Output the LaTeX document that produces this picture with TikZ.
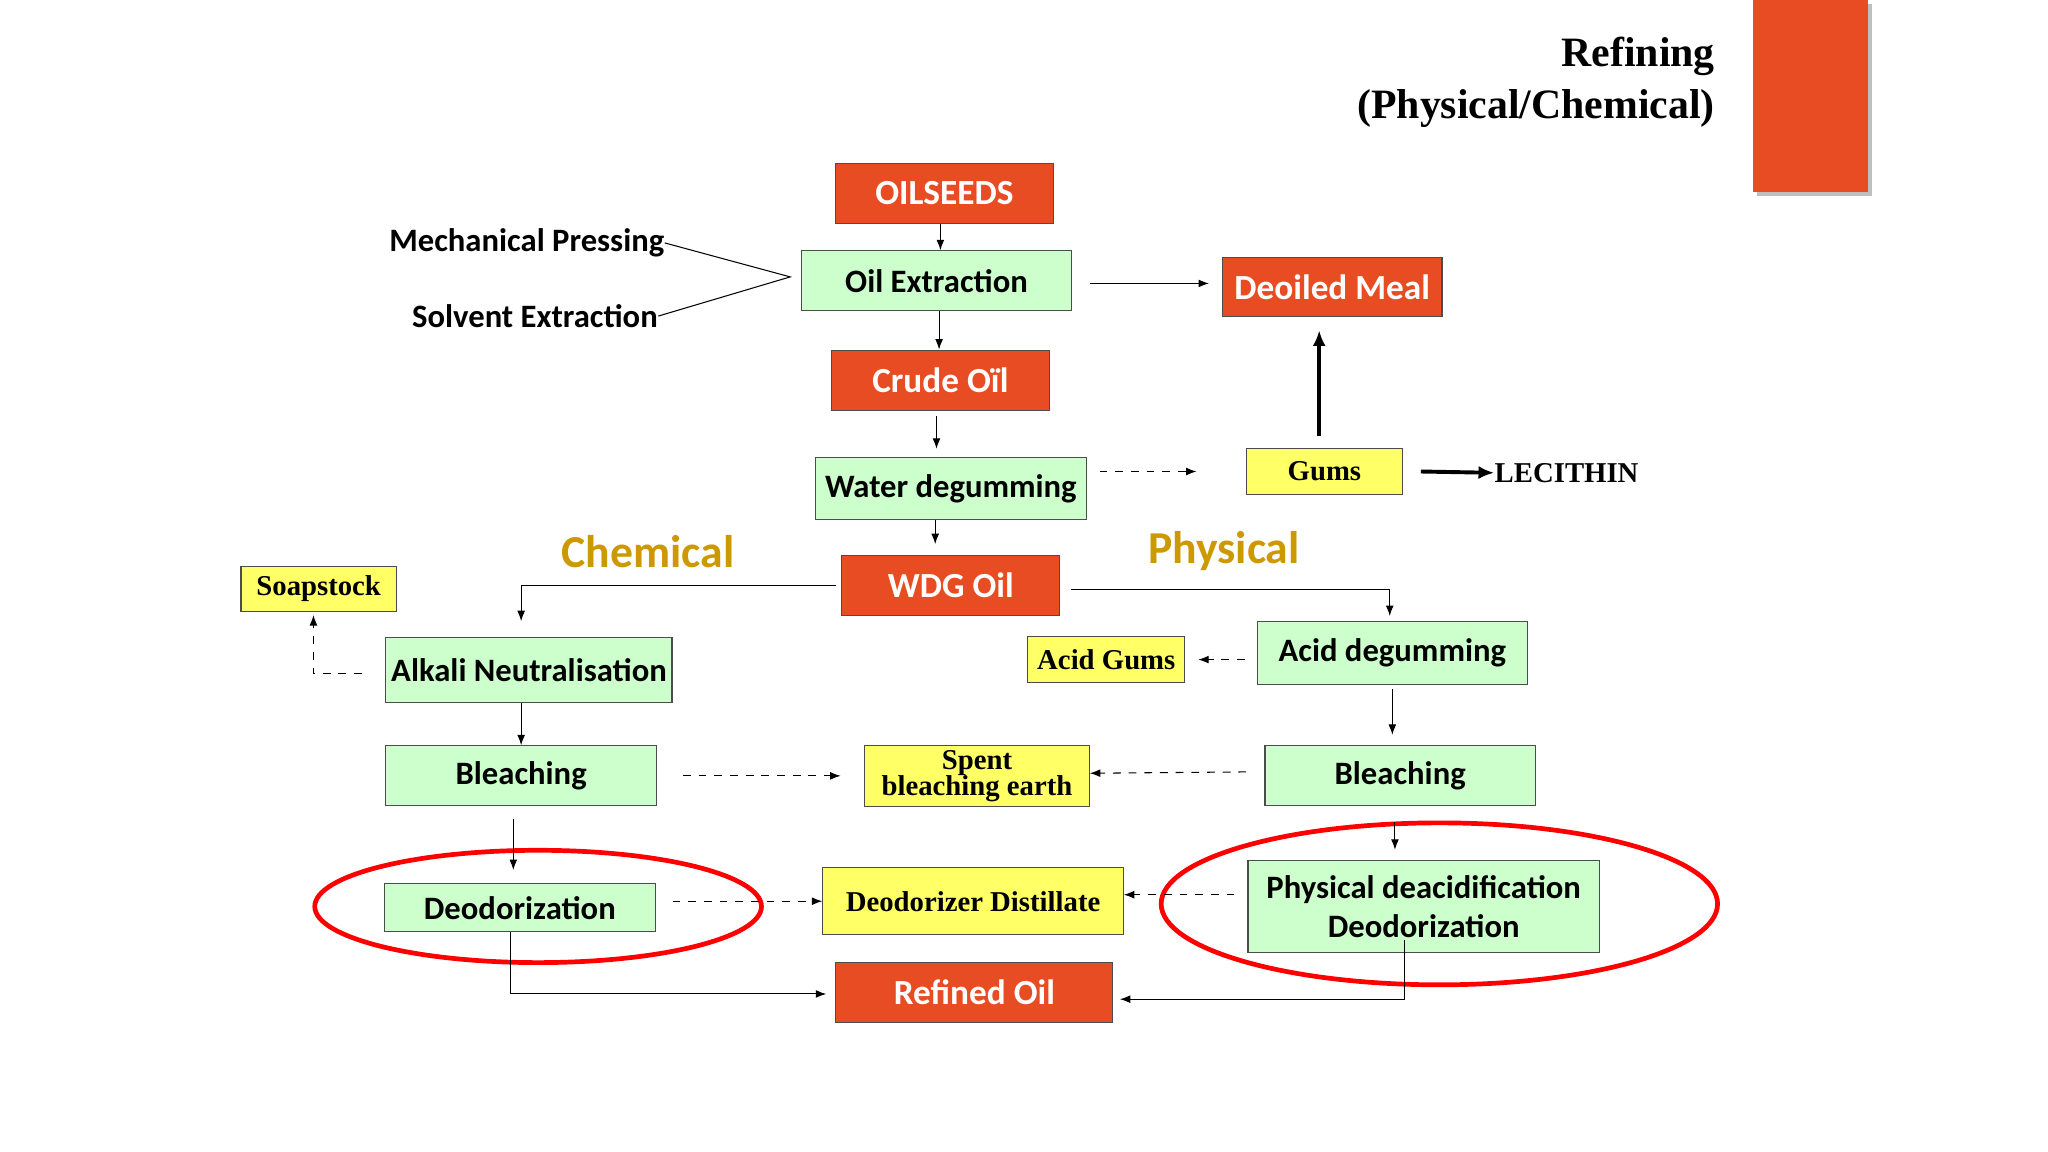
\documentclass[tikz,border=0pt]{standalone}
\usepackage{fontspec}
\setmainfont{Liberation Serif}
\newfontfamily\boxfont{Carlito}
\usetikzlibrary{arrows.meta}
\definecolor{redbox}{HTML}{E84C22}
\definecolor{greenbox}{HTML}{CCFFCC}
\definecolor{yellowbox}{HTML}{FFFF66}
\definecolor{goldtxt}{HTML}{CC9900}
\tikzset{
  base/.style={draw=black!70,inner sep=0pt,font=\boxfont\bfseries\fontsize{12.5}{13}\selectfont},
  hot/.style={base,fill=redbox,text=white,font=\boxfont\bfseries\fontsize{13.5}{14}\selectfont},
  cool/.style={base,fill=greenbox},
  note/.style={base,fill=yellowbox,font=\bfseries\fontsize{11}{10}\selectfont,align=center},
  arr/.style={-{Latex[length=4pt,width=3pt]},thin},
  darr/.style={arr,dashed},
  barr/.style={-{Latex[length=6pt,width=5pt]},line width=1.5pt},
}
\begin{document}
\begin{tikzpicture}[x=0.5pt,y=-0.5pt]
\useasboundingbox[fill=white] (0,0) rectangle (1568,882);
% title
\fill[black!25] (1345,3) rectangle (1433,150);
\fill[redbox] (1342,0) rectangle (1430,147);
\node[anchor=east,align=right,font=\bfseries\fontsize{16}{20}\selectfont] (title) at (1320,63) {Refining\\(Physical/Chemical)};
% boxes
\node[hot,minimum width=83.5pt,minimum height=23pt] (seeds) at (723,148) {OILSEEDS};
\node[cool,minimum width=103.5pt,minimum height=23pt] (extr) at (717,215) {Oil Extraction};
\node[hot,minimum width=84pt,minimum height=22.5pt] (meal) at (1020,220) {Deoiled Meal};
\node[hot,minimum width=83.5pt,minimum height=23pt] (crude) at (720,291) {Crude Oïl};
\node[cool,minimum width=103.5pt,minimum height=24pt] (water) at (728,374) {Water degumming};
\node[note,minimum width=59.5pt,minimum height=17.5pt] (gums) at (1014,361) {Gums};
\node[anchor=west,font=\bfseries\fontsize{11}{12}\selectfont,inner sep=0pt] (lec) at (1144,362) {LECITHIN};
\node[hot,minimum width=83.5pt,minimum height=23pt] (wdg) at (728,448) {WDG Oil};
\node[font=\boxfont\bfseries\fontsize{17.5}{18}\selectfont,text=goldtxt] (chem) at (496,422) {Chemical};
\node[font=\boxfont\bfseries\fontsize{17.5}{18}\selectfont,text=goldtxt] (phys) at (937,422) {Physical};
\node[note,minimum width=59.5pt,minimum height=17.5pt] (soap) at (244,451) {Soapstock};
\node[cool,minimum width=109.5pt,minimum height=25pt] (alk) at (405,513) {Alkali Neutralisation};
\node[note,minimum width=60pt,minimum height=17.5pt] (agums) at (847,505) {Acid Gums};
\node[cool,minimum width=103.5pt,minimum height=24pt] (acid) at (1066,500) {Acid degumming};
\node[cool,minimum width=103.5pt,minimum height=23pt] (bleachL) at (399,594) {Bleaching};
\node[note,minimum width=86pt,minimum height=23.5pt] (spent) at (748,594) {Spent\\bleaching earth};
\node[cool,minimum width=103.5pt,minimum height=23pt] (bleachR) at (1072,594) {Bleaching};
\node[cool,minimum width=103.5pt,minimum height=18.5pt] (deoL) at (398,695) {Deodorization};
\node[note,minimum width=115pt,minimum height=25.5pt] (dist) at (745,690) {Deodorizer Distillate};
\node[cool,minimum width=134.5pt,minimum height=35pt,align=center] (deoR) at (1090,694) {Physical deacidification\\[2pt]Deodorization};
\node[hot,minimum width=106pt,minimum height=23pt] (refined) at (746,760) {Refined Oil};
\node[anchor=east,inner sep=0pt,font=\boxfont\bfseries\fontsize{12.5}{13}\selectfont] (mech) at (509,186) {Mechanical Pressing};
\node[anchor=east,inner sep=0pt,font=\boxfont\bfseries\fontsize{12.5}{13}\selectfont] (solv) at (504,242) {Solvent Extraction};
% ellipses
\draw[red,line width=1.8pt] (412,694) ellipse [x radius=171,y radius=43];
\draw[red,line width=1.8pt] (1102,692) ellipse [x radius=213,y radius=62];
% connectors
\coordinate (fork) at (605,212);
\draw (mech.east) -- (fork) -- (solv.east);
\draw[arr] ([xshift=-1.5pt]seeds.south) -- ([xshift=1.5pt]extr.north);
\draw[arr] ([xshift=1pt]extr.south) -- ([xshift=-0.5pt]crude.north);
\draw[arr] ([xshift=7pt,yshift=-1pt]extr.east) -- ([xshift=-5pt,yshift=-1pt]meal.west|-extr.east);
\draw[arr] ([xshift=-1.5pt,yshift=-2pt]crude.south) -- ([xshift=-5.5pt,yshift=3pt]water.north);
\draw[darr] ([xshift=5pt,yshift=6.5pt]water.east) -- ([xshift=-19pt]gums.west);
\draw[barr] ([xshift=-2pt,yshift=4.5pt]gums.north) -- ([xshift=-5pt,yshift=-5pt]meal.south);
\draw[barr] ([xshift=7pt]gums.east) -- (lec.west);
\draw[arr] ([xshift=-6pt]water.south) -- ([xshift=-6pt,yshift=4pt]wdg.north);
\draw[arr] ([xshift=-2pt]wdg.west) -| ([yshift=6pt]alk.north-|bleachL);
\draw[arr] ([xshift=4pt,yshift=-1.5pt]wdg.east) -| ([xshift=-1pt,yshift=2pt]acid.north);
\draw[darr] ([xshift=-9pt,yshift=-1.5pt]alk.west) -| ([xshift=-2pt,yshift=-1pt]soap.south);
\draw[arr] (alk.south-|bleachL) -- (bleachL.north);
\draw[darr] ([xshift=-4.5pt]acid.west|-agums) -- ([xshift=5pt]agums.east);
\draw[arr] ([yshift=-1.5pt]acid.south) -- ([xshift=-3pt,yshift=4pt]bleachR.north);
\draw[darr] ([xshift=10pt]bleachL.east) -- ([xshift=-9pt]spent.west);
\draw[darr] ([xshift=-7pt,yshift=1.5pt]bleachR.west) -- ([yshift=1pt]spent.east);
\draw[arr] ([xshift=-3pt,yshift=-5pt]bleachL.south) -- ([xshift=-2.5pt,yshift=5pt]deoL.north);
\draw[arr] ([xshift=-2pt,yshift=-6pt]bleachR.south) -- ([xshift=-11pt,yshift=4pt]deoR.north);
\draw[darr] ([xshift=6.5pt,yshift=2.5pt]deoL.east) -- (dist.west);
\draw[darr] ([xshift=-5pt,yshift=4.5pt]deoR.west) -- ([yshift=2.5pt]dist.east);
\draw[arr] ([xshift=-3.5pt]deoL.south) |- ([xshift=-3.5pt,yshift=-0.5pt]refined.west);
\draw[arr] ([xshift=-7.5pt,yshift=5pt]deoR.south) |- ([xshift=2.5pt,yshift=-2.5pt]refined.east);
\end{tikzpicture}
\end{document}
